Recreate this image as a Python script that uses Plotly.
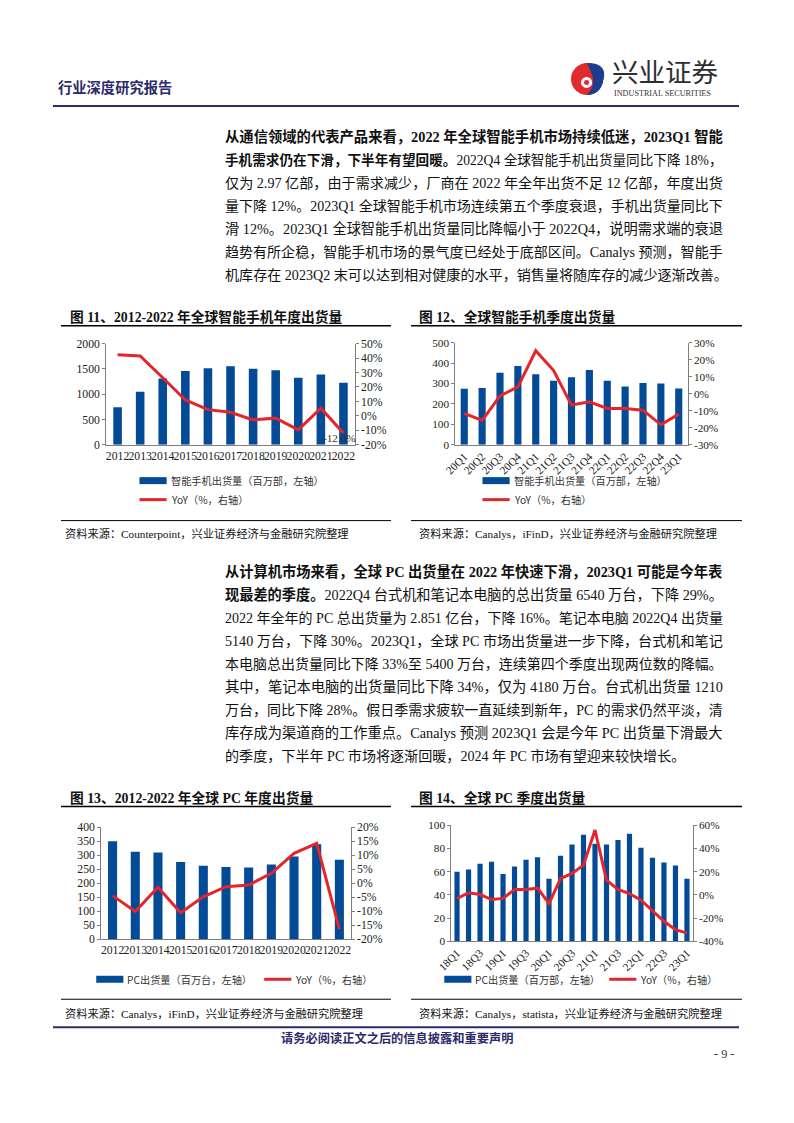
import re
import plotly.graph_objects as go

# page is 794x1123; the browser body keeps its default 8px margin,
# so the figure is 16px smaller and all page coordinates are offset by 8px
PAGE_OFF = 8
W, H = 794 - 2 * PAGE_OFF, 1123 - 2 * PAGE_OFF
# empirical correction of where the page lands in the photograph
CX0, CXS = 19.4, 0.975
CY0, CYS = 4.1, 0.989
FS = 1 / 0.98

# ---------------- data ----------------
sp_years = ["2012", "2013", "2014", "2015", "2016", "2017", "2018", "2019", "2020", "2021", "2022"]
sp_ship = [741, 1049, 1311, 1462, 1515, 1554, 1502, 1475, 1325, 1390, 1226]
sp_yoy = [42.4, 41.5, 26.4, 11.0, 4.3, 2.5, -2.8, -1.6, -9.7, 5.3, -12.0]

spq_labels = ["20Q1", "20Q2", "20Q3", "20Q4", "21Q1", "21Q2", "21Q3", "21Q4",
              "22Q1", "22Q2", "22Q3", "22Q4", "23Q1"]
spq_ship = [274, 278, 353, 386, 345, 313, 331, 366, 313, 285, 303, 300, 275]
spq_yoy = [-11.6, -15.7, -1.3, 4.0, 25.3, 13.6, -6.7, -4.8, -8.7, -8.7, -9.7, -18.3, -12.0]

pc_years = ["2012", "2013", "2014", "2015", "2016", "2017", "2018", "2019", "2020", "2021", "2022"]
pc_ship = [350, 313, 310, 276, 262.5, 258, 257, 267, 296, 340, 284.5]
pc_yoy = [-4.4, -10.1, -1.4, -10.5, -4.8, -1.2, -0.6, 3.6, 10.7, 14.3, -16.4]

pcq_labels = ["18Q1", "18Q2", "18Q3", "18Q4", "19Q1", "19Q2", "19Q3", "19Q4",
              "20Q1", "20Q2", "20Q3", "20Q4", "21Q1", "21Q2", "21Q3", "21Q4",
              "22Q1", "22Q2", "22Q3", "22Q4", "23Q1"]
pcq_ship = [60, 62, 67, 68.6, 58, 64.6, 70.3, 72.6, 53.9, 73.8, 83.6, 91.9,
            84.1, 83.6, 87.3, 92.8, 80.7, 72, 68, 65.4, 53.9]
pcq_yoy = [-3.1, 1.8, 0.3, -4.0, -3.0, 4.7, 4.7, 5.8, -7.4, 14.0, 18.5, 25.7,
           56.0, 12.7, 4.7, 1.2, -4.6, -14.0, -22.7, -30.0, -33.0]

para1 = [
    "<b>从通信领域的代表产品来看，2022 年全球智能手机市场持续低迷，2023Q1 智能</b>",
    "<b>手机需求仍在下滑，下半年有望回暖。</b>2022Q4 全球智能手机出货量同比下降 18%，",
    "仅为 2.97 亿部，由于需求减少，厂商在 2022 年全年出货不足 12 亿部，年度出货",
    "量下降 12%。2023Q1 全球智能手机市场连续第五个季度衰退，手机出货量同比下",
    "滑 12%。2023Q1 全球智能手机出货量同比降幅小于 2022Q4，说明需求端的衰退",
    "趋势有所企稳，智能手机市场的景气度已经处于底部区间。Canalys 预测，智能手",
    "机库存在 2023Q2 末可以达到相对健康的水平，销售量将随库存的减少逐渐改善。",
]
para2 = [
    "<b>从计算机市场来看，全球 PC 出货量在 2022 年快速下滑，2023Q1 可能是今年表</b>",
    "<b>现最差的季度。</b>2022Q4 台式机和笔记本电脑的总出货量 6540 万台，下降 29%。",
    "2022 年全年的 PC 总出货量为 2.851 亿台，下降 16%。笔记本电脑 2022Q4 出货量",
    "5140 万台，下降 30%。2023Q1，全球 PC 市场出货量进一步下降，台式机和笔记",
    "本电脑总出货量同比下降 33%至 5400 万台，连续第四个季度出现两位数的降幅。",
    "其中，笔记本电脑的出货量同比下降 34%，仅为 4180 万台。台式机出货量 1210",
    "万台，同比下降 28%。假日季需求疲软一直延续到新年，PC 的需求仍然平淡，清",
    "库存成为渠道商的工作重点。Canalys 预测 2023Q1 会是今年 PC 出货量下滑最大",
    "的季度，下半年 PC 市场将逐渐回暖，2024 年 PC 市场有望迎来较快增长。",
]

# ---------------- style ----------------
BLUE = "#034A97"
RED = "#E3262B"
NAVY = "#2B2B6B"
AXC = "#7F7F7F"
SERIF = "Liberation Serif, Times New Roman, Noto Sans CJK SC"
CJK = "Noto Sans CJK SC"
TEXTF = "Liberation Serif, Noto Sans CJK SC"


def px(x):
    xd = (x - CX0) / CXS
    return (xd - PAGE_OFF) / W


def py(y):
    yd = (y - CY0) / CYS
    return 1 - (yd - PAGE_OFF) / H


def fs(s):
    return round(s * FS, 2)


fig = go.Figure()
shapes = []
annos = []


def add_chart(i, cats, bars, yoy, xr, yr, lrange, ldtick, rrange, rdtick,
              barw, tickangle, tickvals, tfs, bar_name, line_name):
    xa = "x" if i == 1 else f"x{i}"
    yl = 2 * i - 1
    yr_ = 2 * i
    ya_l = "y" if yl == 1 else f"y{yl}"
    ya_r = f"y{yr_}"
    fig.add_trace(go.Bar(x=cats, y=bars, xaxis=xa, yaxis=ya_l, name=bar_name,
                         marker=dict(color=BLUE, line=dict(width=0)),
                         width=barw, showlegend=False))
    fig.add_trace(go.Scatter(x=cats, y=yoy, xaxis=xa, yaxis=ya_r, name=line_name,
                             mode="lines", line=dict(color=RED, width=3),
                             showlegend=False))
    xkey = "xaxis" if i == 1 else f"xaxis{i}"
    ykl = "yaxis" if yl == 1 else f"yaxis{yl}"
    ykr = f"yaxis{yr_}"
    lv = []
    v = lrange[0]
    while v <= lrange[1] + 1e-9:
        lv.append(v)
        v += ldtick
    rv = []
    v = rrange[0]
    while v <= rrange[1] + 1e-9:
        rv.append(v)
        v += rdtick
    tf = dict(family=SERIF, size=fs(tfs), color="#222")
    fig.update_layout(**{
        xkey: dict(domain=[px(xr[0]), px(xr[1])], anchor=ya_l, showline=True,
                   linecolor=AXC, linewidth=1, ticks="", showgrid=False,
                   tickangle=tickangle, tickmode="array",
                   tickvals=tickvals, ticktext=tickvals,
                   range=[-0.5, len(cats) - 0.5], autorange=False,
                   tickfont=tf, type="category", fixedrange=True),
        ykl: dict(domain=[py(yr[0]), py(yr[1])], anchor=xa, range=lrange,
                  showline=True, linecolor=AXC, linewidth=1, ticks="outside",
                  ticklen=3, tickcolor=AXC, showgrid=False, zeroline=False,
                  tickmode="array", tickvals=lv, ticktext=[f"{t:g}" for t in lv],
                  tickfont=tf, fixedrange=True),
        ykr: dict(overlaying=ya_l, anchor=xa, side="right", range=rrange,
                  showline=True, linecolor=AXC, linewidth=1, ticks="outside",
                  ticklen=3, tickcolor=AXC, showgrid=False, zeroline=False,
                  tickmode="array", tickvals=rv, ticktext=[f"{t:g}%" for t in rv],
                  tickfont=tf, fixedrange=True),
    })


add_chart(1, sp_years, sp_ship, sp_yoy, (110, 357), (443, 342), [0, 2000], 500,
          [-20, 50], 10, 0.38, 0, sp_years, 11.5,
          "智能手机出货量（百万部，左轴）", "YoY（%，右轴）")
add_chart(2, spq_labels, spq_ship, spq_yoy, (457, 688), (443, 341), [0, 500], 100,
          [-30, 30], 10, 0.4, -45, spq_labels, 11,
          "智能手机出货量（百万部，左轴）", "YoY（%，右轴）")
add_chart(3, pc_years, pc_ship, pc_yoy, (105, 353), (938, 826), [0, 400], 50,
          [-20, 20], 5, 0.4, 0, pc_years, 11.5,
          "PC出货量（百万台，左轴）", "YoY（%，右轴）")
add_chart(4, pcq_labels, pcq_ship, pcq_yoy, (453, 693), (940, 824), [0, 100], 20,
          [-40, 60], 20, 0.45, -45, pcq_labels[::2], 11,
          "PC出货量（百万部，左轴）", "YoY（%，右轴）")

# data label on chart 11 (last point)
annos.append(dict(x=len(sp_years) - 1, y=sp_yoy[-1], xref="x", yref="y2",
                  text=f"{sp_yoy[-1]:.1f}%", showarrow=False, xshift=-4, yshift=-5,
                  font=dict(family=SERIF, size=fs(11), color="#333")))


def text(x, y, s, size=14, family=TEXTF, color="#111", anchor="left"):
    annos.append(dict(x=px(x), y=py(y), xref="paper", yref="paper", text=s,
                      showarrow=False, xanchor=anchor, yanchor="middle",
                      font=dict(family=family, size=fs(size), color=color)))


def hline(x0, x1, y, color="#000", width=1):
    shapes.append(dict(type="line", xref="paper", yref="paper",
                       x0=px(x0), x1=px(x1), y0=py(y), y1=py(y),
                       line=dict(color=color, width=width)))


# approximate glyph widths (em) to justify paragraph lines
REG = {" ": 0.25, "%": 0.833, ".": 0.25, "Q": 0.722, "P": 0.556, "C": 0.667,
       "a": 0.444, "n": 0.5, "l": 0.278, "y": 0.5, "s": 0.389}
BLD = dict(REG, Q=0.778, P=0.611, C=0.722)


def em_width(line):
    total = 0.0
    for seg_bold, seg in re.findall(r"(<b>)?([^<]+)(?:</b>)?", line):
        tbl = BLD if seg_bold else REG
        for ch in seg:
            if ord(ch) > 0x2E80:
                total += 1.0
            else:
                total += tbl.get(ch, 0.5)
    return total


def paragraph(lines, x0, y0, step, target, base=13.8):
    for k, s in enumerate(lines):
        if k < len(lines) - 1:
            size = max(12.8, min(14.6, target / em_width(s)))
        else:
            size = base
        text(x0, y0 + k * step, s, size=size)


# ---------------- header ----------------
text(60, 85, "<b>行业深度研究报告</b>", size=14, family=CJK, color=NAVY)
hline(57, 739, 104, NAVY, 2)
# logo symbol
cx, cy, r = 588, 77, 16
shapes.append(dict(type="circle", xref="paper", yref="paper",
                   x0=px(cx - r), x1=px(cx + r), y0=py(cy + r), y1=py(cy - r),
                   fillcolor="#E02A2E", line=dict(width=0)))


def P(x, y):
    return f"{px(x):.5f} {py(y):.5f}"


shapes.append(dict(type="path", xref="paper", yref="paper",
                   path=(f"M {P(cx, cy - r)} "
                         f"Q {P(cx + r * 1.33, cy - r)} {P(cx + r, cy + 2)} "
                         f"Q {P(cx + r * 0.8, cy + r)} {P(cx, cy + r)} "
                         f"Q {P(cx + 9, cy + 6)} {P(cx + 5, cy - 4)} "
                         f"Q {P(cx + 2, cy - 11)} {P(cx, cy - r)} Z"),
                   fillcolor="#1C3D8F", line=dict(width=0)))
shapes.append(dict(type="circle", xref="paper", yref="paper",
                   x0=px(cx - 6), x1=px(cx + 5), y0=py(cy + 9), y1=py(cy - 2),
                   fillcolor="#FFFFFF", line=dict(width=0)))
shapes.append(dict(type="circle", xref="paper", yref="paper",
                   x0=px(cx - 3), x1=px(cx + 2), y0=py(cy + 6), y1=py(cy + 1),
                   fillcolor="#E02A2E", line=dict(width=0)))
text(611, 69, "兴业证券", size=26, family=CJK, color="#2E2E2E")
text(613, 92, "INDUSTRIAL SECURITIES", size=8, family=SERIF, color="#333")

# ---------------- paragraphs ----------------
paragraph(para1, 226, 135, 23, 488)
paragraph(para2, 226, 570, 23.1, 488)

# ---------------- figure titles ----------------
text(72, 315, "<b>图 11、2012-2022 年全球智能手机年度出货量</b>", size=13.5)
hline(65, 393, 324, "#000", 1.5)
text(419, 315, "<b>图 12、全球智能手机季度出货量</b>", size=13.5)
hline(413, 742, 324, "#000", 1.5)
text(72, 797, "<b>图 13、2012-2022 年全球 PC 年度出货量</b>", size=13.5)
hline(65, 393, 805, "#000", 1.5)
text(419, 797, "<b>图 14、全球 PC 季度出货量</b>", size=13.5)
hline(413, 742, 805, "#000", 1.5)


# ---------------- legends (manual) ----------------
def leg_bar(x0, y, label):
    shapes.append(dict(type="rect", xref="paper", yref="paper",
                       x0=px(x0), x1=px(x0 + 27), y0=py(y + 3.5), y1=py(y - 3.5),
                       fillcolor=BLUE, line=dict(width=0)))
    text(x0 + 29, y, label, size=10, family=CJK, color="#333")


def leg_line(x0, y, label):
    shapes.append(dict(type="line", xref="paper", yref="paper",
                       x0=px(x0), x1=px(x0 + 27), y0=py(y), y1=py(y),
                       line=dict(color=RED, width=3)))
    text(x0 + 29, y, label, size=10, family=CJK, color="#333")


leg_bar(143, 479, "智能手机出货量（百万部，左轴）")
leg_line(143, 498, "YoY（%，右轴）")
leg_bar(484, 479, "智能手机出货量（百万部，左轴）")
leg_line(484, 498, "YoY（%，右轴）")
leg_bar(100, 978, "PC出货量（百万台，左轴）")
leg_line(267, 978, "YoY（%，右轴）")
leg_bar(446, 978, "PC出货量（百万部，左轴）")
leg_line(610, 978, "YoY（%，右轴）")

# ---------------- sources ----------------
hline(65, 393, 519, "#000", 1)
hline(413, 742, 519, "#000", 1)
text(67, 532, "资料来源：Counterpoint，兴业证券经济与金融研究院整理", size=11)
text(419, 532, "资料来源：Canalys，iFinD，兴业证券经济与金融研究院整理", size=11)
hline(65, 393, 998, "#000", 1)
hline(413, 742, 998, "#000", 1)
text(67, 1012, "资料来源：Canalys，iFinD，兴业证券经济与金融研究院整理", size=11)
text(419, 1012, "资料来源：Canalys，statista，兴业证券经济与金融研究院整理", size=11)

# ---------------- footer ----------------
hline(57, 739, 1026, NAVY, 2)
text(282, 1037, "<b>请务必阅读正文之后的信息披露和重要声明</b>", size=12, family=CJK, color=NAVY)
text(736, 1053, "- 9 -", size=12, family=SERIF, color="#333", anchor="right")

fig.update_layout(
    width=W, height=H,
    margin=dict(l=0, r=0, t=0, b=0),
    paper_bgcolor="white", plot_bgcolor="rgba(0,0,0,0)",
    shapes=shapes, annotations=annos,
    showlegend=False,
    font=dict(family=TEXTF),
)

fig.write_html("out.html", config={"displayModeBar": False})
